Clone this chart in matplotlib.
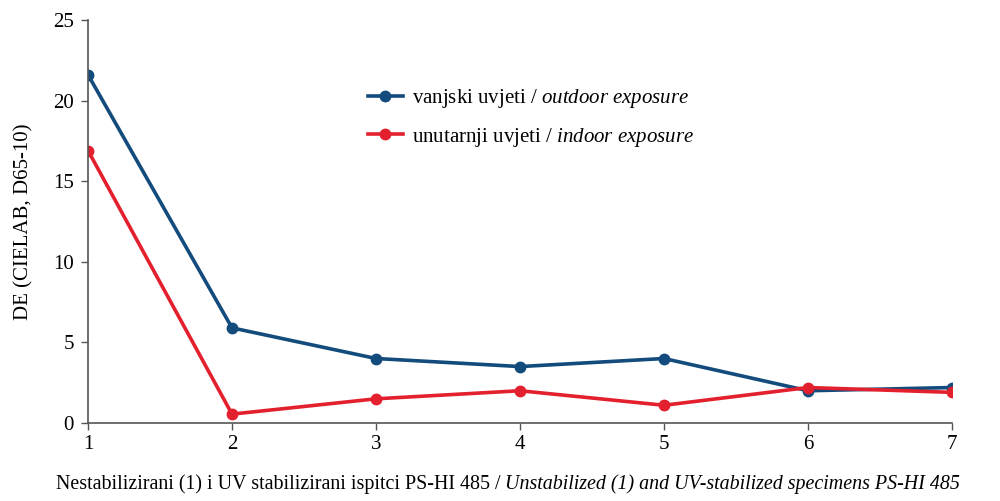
import matplotlib
matplotlib.use("Agg")
import matplotlib.pyplot as plt

# data
specimens = [1, 2, 3, 4, 5, 6, 7]
outdoor = [21.6, 5.9, 4.0, 3.5, 4.0, 2.0, 2.2]
indoor = [16.9, 0.55, 1.5, 2.0, 1.1, 2.2, 1.9]
y_ticks = [0, 5, 10, 15, 20, 25]

plt.rcParams['font.family'] = 'Liberation Serif'
plt.rcParams['mathtext.fontset'] = 'custom'
plt.rcParams['mathtext.rm'] = 'Liberation Serif'
plt.rcParams['mathtext.it'] = 'Liberation Serif:italic'

blue = '#124b7c'
red = '#e3202e'
fs = 15

fig = plt.figure(figsize=(10, 5.01), dpi=100)
ax = fig.add_axes([0.088, 0.1557, 0.864, 0.8045])

ax.plot(specimens, outdoor, color=blue, lw=2.6, marker='o', ms=7.5,
        label=r'vanjski uvjeti / $\mathit{outdoor\ exposure}$')
ax.plot(specimens, indoor, color=red, lw=2.6, marker='o', ms=7.5,
        label=r'unutarnji uvjeti / $\mathit{indoor\ exposure}$')

ax.set_xlim(1, 7)
ax.set_ylim(0, 25)
ax.set_xticks(specimens)
ax.set_yticks(y_ticks)
ax.tick_params(labelsize=fs, color='#555555', length=5, width=1)
ax.tick_params(axis='x', pad=4)
ax.tick_params(axis='y', pad=5)
for s in ['top', 'right']:
    ax.spines[s].set_visible(False)
for s in ['left', 'bottom']:
    ax.spines[s].set_color('#555555')
    ax.spines[s].set_linewidth(1.2)
for sp in ax.spines.values():
    sp.set_clip_on(False)

ax.set_ylabel('DE (CIELAB, D65-10)', fontsize=fs, labelpad=14)

ax.legend(loc='upper left', bbox_to_anchor=(0.302, 0.88), frameon=False,
          fontsize=fs, handlelength=1.7, labelspacing=0.75, handletextpad=0.45)

# x label: upright part + italic part
fig.canvas.draw()
r = fig.canvas.get_renderer()
xfs = 14.4
t1 = fig.text(0.056, 0.024, 'Nestabilizirani (1) i UV stabilizirani ispitci PS-HI 485 / ',
              fontsize=xfs)
bb = t1.get_window_extent(renderer=r)
fig.text(bb.x1 / fig.bbox.width, 0.024,
         'Unstabilized (1) and UV-stabilized specimens PS-HI 485',
         fontsize=xfs, style='italic')

fig.savefig('out.png', dpi=100)
